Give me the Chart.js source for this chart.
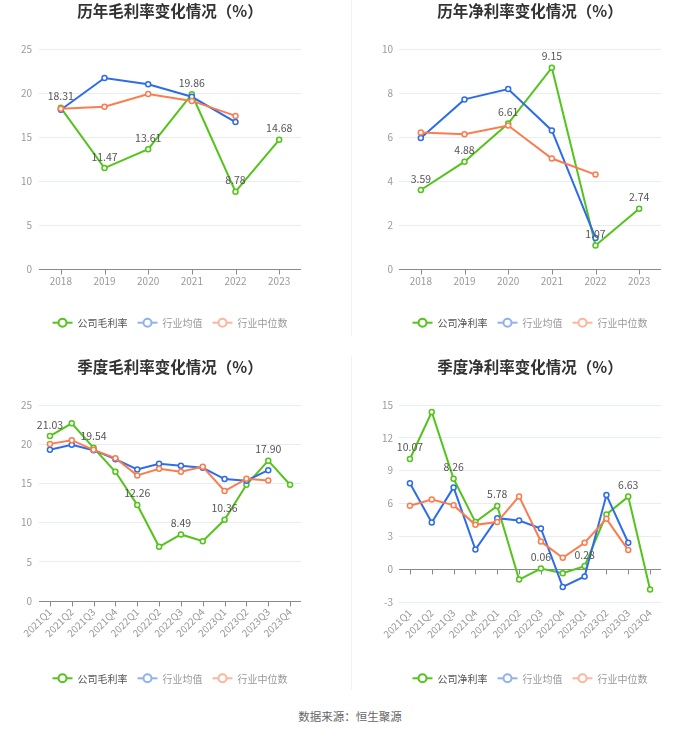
<!DOCTYPE html>
<html><head><meta charset="utf-8">
<script src="https://cdn.jsdelivr.net/npm/chart.js@4"></script>
<style>
html,body{margin:0;padding:0;background:#fff;}
body{width:700px;height:734px;position:relative;overflow:hidden;font-family:'Noto Sans CJK SC',sans-serif;}
.p{position:absolute;}
.sep{position:absolute;left:351px;width:1px;background:#f2f2f2;}
#src{position:absolute;left:0;width:700px;top:708px;line-height:16px;text-align:center;font-size:11.5px;color:#666;}
</style></head><body>
<div class="sep" style="top:0;height:336px"></div>
<div class="sep" style="top:356px;height:334px"></div>
<div class="p" style="left:0;top:0"><canvas id="c1" width="350" height="356"></canvas></div>
<div class="p" style="left:350px;top:0"><canvas id="c2" width="350" height="356"></canvas></div>
<div class="p" style="left:0;top:356px"><canvas id="c3" width="350" height="344"></canvas></div>
<div class="p" style="left:350px;top:356px"><canvas id="c4" width="350" height="344"></canvas></div>
<div id="src">数据来源：恒生聚源</div>
<script>
// ---- data ----
const yearLabels = ['2018','2019','2020','2021','2022','2023'];
const grossCompany = [18.31, 11.47, 13.61, 19.86, 8.78, 14.68];
const grossAvg = [18.10, 21.70, 21.00, 19.57, 16.70];
const grossMedian = [18.20, 18.43, 19.88, 19.10, 17.40];
const netCompany = [3.59, 4.88, 6.61, 9.15, 1.07, 2.74];
const netAvg = [5.96, 7.71, 8.18, 6.30, 1.41];
const netMedian = [6.21, 6.13, 6.52, 5.02, 4.29];
const quarterLabels = ['2021Q1','2021Q2','2021Q3','2021Q4','2022Q1','2022Q2','2022Q3','2022Q4','2023Q1','2023Q2','2023Q3','2023Q4'];
const qGrossCompany = [21.03, 22.67, 19.54, 16.48, 12.26, 6.91, 8.49, 7.63, 10.36, 14.83, 17.90, 14.83];
const qGrossAvg = [19.28, 19.92, 19.24, 18.09, 16.78, 17.50, 17.25, 16.99, 15.55, 15.34, 16.69];
const qGrossMedian = [20.04, 20.51, 19.28, 18.22, 16.02, 16.86, 16.48, 17.12, 14.03, 15.59, 15.38];
const qNetCompany = [10.07, 14.36, 8.26, 4.30, 5.78, -0.95, 0.06, -0.37, 0.28, 5.00, 6.63, -1.86];
const qNetAvg = [7.84, 4.27, 7.47, 1.80, 4.66, 4.45, 3.72, -1.62, -0.67, 6.77, 2.41];
const qNetMedian = [5.79, 6.37, 5.85, 4.05, 4.30, 6.65, 2.53, 1.04, 2.41, 4.60, 1.74];
const legendAvg = '行业均值';
const legendMedian = '行业中位数';

const FONT = "'Noto Sans CJK SC', sans-serif";
const GREEN = '#52c41a', BLUE = '#2f6ce8', ORANGE = '#fb7d4f';
const BLUE_L = '#8fb0f6', ORANGE_L = '#ffb49b';

const decor = {
  id: 'decor',
  beforeDatasetsDraw(chart, args, o) {
    const ctx = chart.ctx, ca = chart.chartArea;
    const y0 = Math.round(chart.scales.y.getPixelForValue(0)) + 0.5;
    ctx.save();
    ctx.strokeStyle = '#8a8a8a';
    ctx.lineWidth = 1;
    ctx.beginPath();
    ctx.moveTo(ca.left, y0); ctx.lineTo(ca.right, y0);
    const n = chart.data.labels.length;
    for (let i = 0; i < n; i++) {
      const x = Math.round(chart.scales.x.getPixelForValue(i)) + 0.5;
      ctx.moveTo(x, y0); ctx.lineTo(x, y0 + 5);
    }
    ctx.stroke();
    ctx.restore();
  },
  afterDatasetsDraw(chart, args, o) {
    const ctx = chart.ctx;
    const meta = chart.getDatasetMeta(0);
    const data = chart.data.datasets[0].data;
    ctx.save();
    ctx.font = '10.5px ' + FONT;
    ctx.fillStyle = '#555';
    ctx.textAlign = 'center';
    ctx.textBaseline = 'middle';
    meta.data.forEach((pt, i) => {
      if (o.labelStep && i % o.labelStep !== 0) return;
      ctx.fillText(data[i].toFixed(2), pt.x, pt.y - 11.5);
    });
    ctx.restore();
  },
  afterDraw(chart, args, o) {
    const ctx = chart.ctx, ca = chart.chartArea;
    const cx = (ca.left + ca.right) / 2;
    ctx.save();
    ctx.font = 'bold 15.5px ' + FONT;
    ctx.fillStyle = '#333';
    ctx.textAlign = 'center';
    ctx.textBaseline = 'middle';
    ctx.fillText(o.title, cx, o.titleY);
    // legend
    ctx.font = '10px ' + FONT;
    const items = o.legend;
    const iconW = 20, gap = 5, itemGap = 10;
    const widths = items.map(it => iconW + gap + ctx.measureText(it.text).width);
    const total = widths.reduce((a, b) => a + b, 0) + itemGap * (items.length - 1);
    let x = cx - total / 2;
    const y = o.legendY;
    ctx.textAlign = 'left';
    items.forEach((it, i) => {
      ctx.strokeStyle = it.color;
      ctx.lineWidth = 2;
      ctx.beginPath(); ctx.moveTo(x, y); ctx.lineTo(x + iconW, y); ctx.stroke();
      ctx.beginPath(); ctx.arc(x + iconW / 2, y, 4, 0, Math.PI * 2);
      ctx.fillStyle = '#fff'; ctx.fill(); ctx.stroke();
      ctx.fillStyle = it.textColor;
      ctx.fillText(it.text, x + iconW + gap, y + 0.5);
      x += widths[i] + itemGap;
    });
    ctx.restore();
  }
};

function ds(label, data, color, order) {
  return {
    label, data, borderColor: color, backgroundColor: '#fff',
    borderWidth: 2, pointRadius: 2.5, pointBorderWidth: 1.5,
    pointBackgroundColor: '#fff', pointBorderColor: color,
    tension: 0, fill: false, order
  };
}

function makeChart(id, cfg) {
  const rotated = cfg.rotated;
  new Chart(document.getElementById(id), {
    type: 'line',
    data: {
      labels: cfg.labels,
      datasets: [
        ds(cfg.companyName, cfg.company, GREEN, 3),
        ds(legendAvg, cfg.avg, BLUE, 2),
        ds(legendMedian, cfg.median, ORANGE, 1)
      ]
    },
    options: {
      responsive: false,
      animation: false,
      events: [],
      layout: { padding: { left: 0, right: cfg.padRight, top: cfg.padTop, bottom: 0 } },
      plugins: {
        legend: { display: false },
        title: { display: false },
        tooltip: { enabled: false },
        decor: {
          title: cfg.title, titleY: cfg.titleY, legendY: cfg.legendY,
          labelStep: cfg.labelStep,
          legend: [
            { text: cfg.companyName, color: GREEN, textColor: '#555' },
            { text: legendAvg, color: BLUE_L, textColor: '#999' },
            { text: legendMedian, color: ORANGE_L, textColor: '#999' }
          ]
        }
      },
      scales: {
        x: {
          type: 'category',
          offset: true,
          grid: { display: false, drawTicks: false },
          border: { display: false },
          ticks: {
            color: '#9a9a9a', font: { size: 10, family: FONT },
            padding: rotated ? 5 : 6,
            minRotation: rotated ? 45 : 0, maxRotation: rotated ? 45 : 0,
            autoSkip: false
          },
          afterFit(s) { s.height = cfg.xHeight; }
        },
        y: {
          min: cfg.yMin, max: cfg.yMax,
          ticks: { stepSize: cfg.yStep, color: '#9a9a9a', font: { size: 10, family: FONT }, padding: cfg.yPad },
          grid: {
            drawTicks: false,
            color: c => (c.tick && c.tick.value === 0) ? 'rgba(0,0,0,0)' : '#e8ecf4',
            lineWidth: 1
          },
          border: { display: false },
          afterFit(s) { s.width = cfg.yWidth; }
        }
      }
    },
    plugins: [decor]
  });
}

makeChart('c1', {
  labels: yearLabels, company: grossCompany, avg: grossAvg, median: grossMedian,
  companyName: '公司毛利率', title: '历年毛利率变化情况（%）',
  yMin: 0, yMax: 25, yStep: 5, yWidth: 39, yPad: 7, padRight: 49, padTop: 49,
  xHeight: 87, titleY: 11.5, legendY: 322.7, labelStep: 1, rotated: false
});
makeChart('c2', {
  labels: yearLabels, company: netCompany, avg: netAvg, median: netMedian,
  companyName: '公司净利率', title: '历年净利率变化情况（%）',
  yMin: 0, yMax: 10, yStep: 2, yWidth: 49, yPad: 6, padRight: 39, padTop: 49,
  xHeight: 87, titleY: 11.5, legendY: 322.7, labelStep: 1, rotated: false
});
makeChart('c3', {
  labels: quarterLabels, company: qGrossCompany, avg: qGrossAvg, median: qGrossMedian,
  companyName: '公司毛利率', title: '季度毛利率变化情况（%）',
  yMin: 0, yMax: 25, yStep: 5, yWidth: 39, yPad: 7, padRight: 49, padTop: 49,
  xHeight: 99, titleY: 11, legendY: 322.3, labelStep: 2, rotated: true
});
makeChart('c4', {
  labels: quarterLabels, company: qNetCompany, avg: qNetAvg, median: qNetMedian,
  companyName: '公司净利率', title: '季度净利率变化情况（%）',
  yMin: -3, yMax: 15, yStep: 3, yWidth: 49, yPad: 6, padRight: 39, padTop: 49,
  xHeight: 98, titleY: 11, legendY: 322.3, labelStep: 2, rotated: true
});
</script>
</body></html>
